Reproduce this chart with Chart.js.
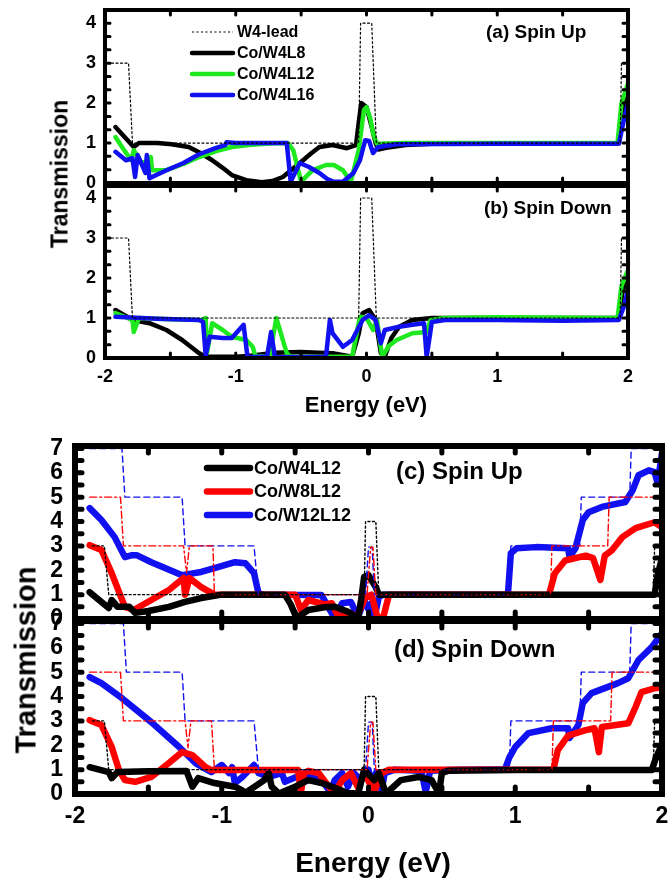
<!DOCTYPE html>
<html>
<head>
<meta charset="utf-8">
<script src="https://cdn.jsdelivr.net/npm/chart.js@4.4.1/dist/chart.umd.min.js"></script>
<style>
body { margin:0; background:#fff; }
#wrap { position:relative; width:668px; height:884px; overflow:hidden;
        font-family:"Liberation Sans", Arial, sans-serif; font-weight:bold; color:#000; }
canvas { position:absolute; left:0; top:0; }
.t { position:absolute; white-space:nowrap; line-height:1; transform:translate(-50%,-50%); }
.r { transform:translate(-50%,-50%) rotate(-90deg); }
</style>
</head>
<body>
<div id="wrap">
  <canvas id="pa" width="668" height="884"></canvas>
  <canvas id="pb" width="668" height="884"></canvas>
  <canvas id="pc" width="668" height="884"></canvas>
  <canvas id="pd" width="668" height="884"></canvas>
  <div class="t r" style="left:60px;top:174px;font-size:23px">Transmission</div>
  <div class="t" style="left:366px;top:405px;font-size:22px">Energy (eV)</div>
  <div class="t r" style="left:26px;top:660px;font-size:29px">Transmission</div>
  <div class="t" style="left:373px;top:863px;font-size:28px">Energy (eV)</div>
</div>
<script>
// ---- tick labels ----
const xTicks = [-2, -1, 0, 1, 2];
const yTicksTop = [0, 1, 2, 3, 4];
const yTicksBot = [0, 1, 2, 3, 4, 5, 6, 7];

// ---- data: [energy (eV), transmission] ----
// (a) spin up, W4 lead and Co/W4Ln
const aLead = [[-1.95,3],[-1.82,3],[-1.79,1],[-0.06,1],[-0.045,4],[0.04,4],[0.075,1],[1.94,1],[1.95,3],[2,3]];
const aL8 = [[-1.92,1.4],[-1.85,1.15],[-1.78,0.9],[-1.74,1.0],[-1.6,1.0],[-1.49,0.97],[-1.36,0.9],[-1.27,0.75],[-1.18,0.57],[-1.1,0.38],[-1.03,0.2],[-0.92,0.07],[-0.8,0.02],[-0.72,0.05],[-0.64,0.15],[-0.51,0.5],[-0.42,0.75],[-0.36,0.9],[-0.26,0.95],[-0.15,0.87],[-0.08,0.95],[-0.06,1.5],[-0.04,2.0],[0.0,1.9],[0.04,1.4],[0.07,1.0],[0.09,0.84],[0.15,0.88],[0.3,0.95],[0.5,0.98],[1.0,0.99],[1.93,1.0],[1.95,1.7],[1.98,2.05],[2.0,2.15]];
const aL12 = [[-1.92,1.15],[-1.86,0.85],[-1.8,0.57],[-1.78,0.82],[-1.72,0.5],[-1.66,0.57],[-1.65,0.65],[-1.64,0.32],[-1.53,0.32],[-1.4,0.48],[-1.28,0.65],[-1.15,0.8],[-1.03,0.9],[-0.9,0.95],[-0.75,0.99],[-0.6,1.0],[-0.56,0.82],[-0.5,0.03],[-0.45,0.2],[-0.41,0.32],[-0.31,0.45],[-0.25,0.45],[-0.18,0.32],[-0.12,0.03],[-0.06,0.82],[-0.02,1.82],[0.0,1.9],[0.03,1.6],[0.05,1.25],[0.08,0.98],[0.3,1.0],[1.92,1.0],[1.95,2.0],[2.0,2.5]];
const aL16 = [[-1.92,0.78],[-1.84,0.57],[-1.79,0.62],[-1.77,0.15],[-1.75,0.7],[-1.71,0.4],[-1.69,0.25],[-1.68,0.7],[-1.66,0.12],[-1.53,0.32],[-1.4,0.5],[-1.28,0.72],[-1.15,0.88],[-1.08,0.95],[-1.07,1.02],[-1.0,1.0],[-0.61,1.0],[-0.58,0.03],[-0.51,0.5],[-0.44,0.4],[-0.36,0.25],[-0.3,0.1],[-0.25,0.03],[-0.18,0.03],[-0.1,0.25],[-0.05,0.57],[-0.01,1.07],[0.02,1.05],[0.05,0.75],[0.09,0.9],[0.23,0.97],[1.0,0.98],[1.93,0.98],[1.97,1.6],[2.0,2.0]];

// (b) spin down
const bLead = [[-1.95,3],[-1.82,3],[-1.79,1],[-0.06,1],[-0.045,4],[0.04,4],[0.075,1],[1.94,1],[1.95,3],[2,3]];
const bL8 = [[-1.92,1.2],[-1.79,0.95],[-1.66,0.87],[-1.53,0.7],[-1.41,0.45],[-1.28,0.12],[-1.23,0.03],[-1.0,0.03],[-0.9,0.05],[-0.7,0.13],[-0.51,0.15],[-0.26,0.12],[-0.11,0.03],[-0.06,0.6],[-0.03,1.12],[0.02,1.2],[0.07,0.95],[0.11,0.12],[0.14,0.03],[0.19,0.5],[0.25,0.78],[0.35,0.95],[0.5,1.0],[1.93,1.0],[1.96,1.7],[2.0,1.95]];
const bL12 = [[-1.92,1.12],[-1.79,0.95],[-1.78,0.65],[-1.74,1.0],[-1.5,0.97],[-1.26,0.95],[-1.23,1.0],[-1.22,0.12],[-1.18,0.87],[-1.1,0.7],[-1.03,0.53],[-0.92,0.45],[-0.87,0.28],[-0.85,0.05],[-0.74,0.03],[-0.69,1.0],[-0.61,0.12],[-0.58,0.03],[-0.11,0.03],[-0.05,1.03],[0.0,1.0],[0.05,0.7],[0.08,0.95],[0.12,0.03],[0.17,0.3],[0.23,0.45],[0.35,0.62],[0.46,0.65],[0.49,0.95],[0.6,1.0],[1.0,1.02],[1.92,1.0],[1.95,1.8],[2.0,2.2]];
const bL16 = [[-1.92,1.03],[-1.6,0.98],[-1.28,0.95],[-1.25,0.9],[-1.23,0.07],[-1.2,0.53],[-1.1,0.5],[-1.03,0.5],[-0.94,0.83],[-0.91,0.02],[-0.76,0.04],[-0.73,0.65],[-0.7,0.02],[-0.31,0.03],[-0.28,0.95],[-0.26,0.62],[-0.18,0.28],[-0.11,0.45],[-0.03,0.95],[0.02,1.07],[0.07,0.95],[0.11,0.37],[0.14,0.7],[0.25,0.78],[0.35,0.83],[0.44,0.87],[0.46,0.03],[0.5,0.9],[0.6,0.95],[1.0,0.95],[1.5,0.93],[1.93,0.95],[1.97,1.3],[2.0,1.7]];

// (c) spin up, leads W4/W8/W12 and Co/WnL12
const cLead4 = [[-1.88,3],[-1.8,3],[-1.77,1],[-0.03,1],[-0.02,4],[0.05,4],[0.07,1],[1.94,1],[1.95,3],[2,3]];
const cLead8 = [[-1.9,5],[-1.69,5],[-1.67,3],[-1.26,3],[-1.24,1.9],[-1.22,3],[-1.06,3],[-1.05,1],[-0.01,1],[0.015,2.95],[0.03,2.95],[0.05,1],[1.24,1],[1.25,3],[1.63,3],[1.64,5],[2,5]];
const cLead12 = [[-1.9,7],[-1.68,7],[-1.66,5],[-1.27,5],[-1.25,3],[-0.78,3],[-0.75,1],[-0.02,1],[0.0,2.95],[0.025,2.95],[0.04,1],[0.96,1],[0.97,3],[1.44,3],[1.45,5],[1.78,5],[1.79,7],[2,7]];
const cW4 = [[-1.9,1.1],[-1.83,0.75],[-1.77,0.45],[-1.75,0.78],[-1.71,0.5],[-1.63,0.5],[-1.59,0.25],[-1.5,0.33],[-1.36,0.5],[-1.25,0.7],[-1.14,0.86],[-1.0,1.0],[-0.57,1.0],[-0.53,0.6],[-0.49,0.04],[-0.41,0.37],[-0.3,0.48],[-0.23,0.5],[-0.14,0.3],[-0.07,0.04],[-0.05,0.8],[-0.03,1.72],[0.0,1.8],[0.05,1.3],[0.07,1.0],[1.95,1.0],[1.97,1.8],[2.0,2.5]];
const cW8 = [[-1.9,3.03],[-1.82,2.83],[-1.75,1.88],[-1.66,0.5],[-1.6,0.37],[-1.48,0.78],[-1.36,1.19],[-1.26,1.68],[-1.25,1.0],[-1.22,1.68],[-1.14,1.31],[-1.05,1.0],[-0.5,1.0],[-0.46,0.37],[-0.41,0.78],[-0.3,0.6],[-0.25,0.65],[-0.2,0.02],[-0.14,0.3],[-0.08,0.08],[-0.02,0.9],[0.02,1.0],[0.06,0.1],[0.1,0.05],[0.14,1.0],[1.23,1.0],[1.27,1.88],[1.34,2.4],[1.48,2.6],[1.53,2.5],[1.58,1.6],[1.61,2.6],[1.66,2.83],[1.73,3.36],[1.82,3.73],[1.95,3.97],[1.99,3.8]];
const cW12 = [[-1.9,4.55],[-1.82,4.06],[-1.73,3.36],[-1.66,2.54],[-1.61,2.62],[-1.58,2.62],[-1.48,2.33],[-1.27,1.8],[-1.14,1.93],[-1.05,2.09],[-0.91,2.33],[-0.84,2.29],[-0.78,1.88],[-0.75,1.07],[-0.72,1.0],[-0.32,0.98],[-0.23,0.02],[-0.18,0.65],[-0.12,0.7],[-0.07,0.08],[-0.03,0.78],[0.0,0.4],[0.02,0.65],[0.04,0.02],[0.07,0.9],[0.1,1.0],[0.95,1.0],[0.97,2.7],[1.01,2.9],[1.14,2.95],[1.36,2.9],[1.37,2.55],[1.41,2.9],[1.46,4.06],[1.5,4.38],[1.59,4.6],[1.75,4.8],[1.8,5.28],[1.84,5.9],[1.91,6.1],[1.95,6.03],[1.97,5.57],[2.0,6.8]];

// (d) spin down
const dLead4 = [[-1.88,3],[-1.8,3],[-1.77,1],[-0.03,1],[-0.02,4],[0.05,4],[0.07,1],[1.94,1],[1.95,3],[2,3]];
const dLead8 = [[-1.9,5],[-1.69,5],[-1.67,3],[-1.25,3],[-1.23,1.9],[-1.21,3],[-1.07,3],[-1.05,1],[-0.01,1],[0.015,2.95],[0.03,2.95],[0.05,1],[1.25,1],[1.26,3],[1.65,3],[1.66,5],[2,5]];
const dLead12 = [[-1.9,7],[-1.67,7],[-1.65,5],[-1.27,5],[-1.25,3],[-0.78,3],[-0.75,1],[-0.02,1],[0.0,2.95],[0.025,2.95],[0.04,1],[0.96,1],[0.97,3],[1.44,3],[1.45,5],[1.78,5],[1.79,7],[2,7]];
const dW4 = [[-1.9,1.1],[-1.77,0.9],[-1.75,0.65],[-1.71,0.9],[-1.5,0.93],[-1.24,0.94],[-1.2,0.3],[-1.16,0.65],[-1.05,0.45],[-0.91,0.3],[-0.86,0.15],[-0.84,0.04],[-0.71,0.57],[-0.68,0.86],[-0.66,0.3],[-0.61,0.02],[-0.5,0.3],[-0.41,0.57],[-0.32,0.45],[-0.23,0.25],[-0.14,0.04],[-0.07,0.02],[-0.03,1.0],[0.0,0.8],[0.04,0.57],[0.07,0.86],[0.12,0.02],[0.22,0.57],[0.34,0.7],[0.43,0.57],[0.48,0.02],[0.5,0.86],[0.54,0.95],[1.0,0.98],[1.93,0.98],[1.96,1.5],[1.99,1.9]];
const dW8 = [[-1.9,3.03],[-1.82,2.83],[-1.75,1.93],[-1.7,0.98],[-1.66,0.57],[-1.59,0.5],[-1.48,0.7],[-1.36,1.27],[-1.27,1.72],[-1.2,1.6],[-1.11,1.1],[-1.07,0.98],[-0.48,0.98],[-0.46,0.08],[-0.44,0.86],[-0.41,0.95],[-0.34,0.86],[-0.27,0.3],[-0.23,0.04],[-0.18,0.57],[-0.12,0.86],[-0.07,0.25],[-0.03,0.86],[0.02,0.3],[0.04,0.1],[0.09,0.86],[0.14,1.0],[1.26,1.0],[1.29,1.8],[1.36,2.4],[1.48,2.62],[1.54,2.7],[1.57,1.72],[1.59,2.75],[1.77,2.9],[1.82,3.57],[1.86,4.18],[1.95,4.34],[2.0,4.38]];
const dW12 = [[-1.9,4.8],[-1.82,4.55],[-1.68,3.93],[-1.48,2.95],[-1.29,1.93],[-1.18,1.27],[-1.07,0.9],[-1.0,1.19],[-0.95,0.86],[-0.93,1.1],[-0.91,0.45],[-0.86,0.7],[-0.78,1.19],[-0.75,0.86],[-0.68,0.7],[-0.59,0.86],[-0.57,0.5],[-0.46,0.78],[-0.32,0.57],[-0.26,0.08],[-0.23,0.57],[-0.18,0.86],[-0.14,0.3],[-0.1,0.86],[-0.05,0.57],[0.0,1.0],[0.02,0.3],[0.05,0.86],[0.09,0.15],[0.11,0.86],[0.18,1.0],[0.36,0.95],[0.39,0.08],[0.42,0.95],[0.6,1.0],[0.93,1.02],[0.96,1.5],[1.0,1.93],[1.09,2.5],[1.25,2.7],[1.36,2.7],[1.37,2.3],[1.43,2.83],[1.46,3.73],[1.52,4.14],[1.7,4.55],[1.77,4.75],[1.84,5.5],[1.93,6.03],[2.0,6.6]];

const FONT = '"Liberation Sans", Arial, sans-serif';
const GREEN = '#1ee81e', BLUE = '#1010f0', RED = '#ff0000';

// —— helpers ——
const pts = arr => arr.map(([x, y]) => ({ x, y }));
function line(label, arr, color, width, order, dash, inLegend) {
  return { label, data: pts(arr), borderColor: color, borderWidth: width, borderDash: dash || [],
           order, inLegend: !!inLegend, fill: false };
}

// frame, inward ticks, panel tag and legend
const frame = {
  id: 'frame',
  afterDatasetsDraw(chart, args, o) {
    const { ctx, chartArea: a, scales: { x, y } } = chart;
    ctx.save();
    ctx.strokeStyle = '#000';
    ctx.lineCap = 'round';
    ctx.lineWidth = o.tickW;
    ctx.setLineDash([]);
    ctx.beginPath();
    for (let i = 0; -2 + i * 0.5 <= 2.001; i++) {
      const px = x.getPixelForValue(-2 + i * 0.5);
      ctx.moveTo(px, a.bottom); ctx.lineTo(px, a.bottom - o.tickL);
      ctx.moveTo(px, a.top); ctx.lineTo(px, a.top + o.tickL);
    }
    for (let i = 0; i * o.yStep <= y.max + 1e-6; i++) {
      const py = y.getPixelForValue(i * o.yStep);
      ctx.moveTo(a.left, py); ctx.lineTo(a.left + o.tickL, py);
      ctx.moveTo(a.right, py); ctx.lineTo(a.right - o.tickL, py);
    }
    ctx.stroke();
    ctx.lineCap = 'butt';
    ctx.lineWidth = o.border;
    ctx.strokeRect(a.left, a.top, a.right - a.left, a.bottom - a.top);

    ctx.fillStyle = '#000';
    ctx.textAlign = 'left';
    ctx.textBaseline = 'middle';
    ctx.font = 'bold ' + o.tagSize + 'px ' + FONT;
    ctx.fillText(o.tag, o.tagX, o.tagY);

    if (o.legend) {
      const L = o.legend;
      ctx.font = 'bold ' + L.size + 'px ' + FONT;
      chart.data.datasets.filter(d => d.inLegend).forEach((d, i) => {
        const yy = L.y + i * L.gap;
        ctx.strokeStyle = d.borderColor;
        ctx.lineWidth = d.borderWidth;
        ctx.setLineDash(d.borderDash);
        ctx.lineCap = d.borderDash.length ? 'butt' : 'round';
        ctx.beginPath(); ctx.moveTo(L.x, yy); ctx.lineTo(L.x + L.len, yy); ctx.stroke();
        ctx.fillText(d.label, L.x + L.len + 4, yy + 1);
      });
    }
    ctx.restore();
  }
};

function panel(id, sets, o) {
  return new Chart(document.getElementById(id), {
    type: 'line',
    data: { datasets: sets },
    options: {
      responsive: false,
      animation: false,
      layout: { padding: o.pad },
      elements: { point: { radius: 0 }, line: { tension: 0, borderJoinStyle: 'round', borderCapStyle: 'round' } },
      scales: {
        x: {
          type: 'linear', min: -2, max: 2, display: o.xLabels,
          grid: { display: false, drawTicks: false }, border: { display: false },
          ticks: { padding: o.xPad, color: '#000', maxRotation: 0, autoSkip: false,
                   font: { family: FONT, size: o.tickSize, weight: 'bold' } },
          afterBuildTicks: s => { s.ticks = xTicks.map(v => ({ value: v })); },
          afterFit: s => { if (o.xH) s.height = o.xH; s.paddingLeft = 0; s.paddingRight = 0; }
        },
        y: {
          min: 0, max: o.yMax,
          grid: { display: false, drawTicks: false }, border: { display: false },
          ticks: { autoSkip: false, padding: o.yPad, color: '#000',
                   font: { family: FONT, size: o.tickSize, weight: 'bold' } },
          afterBuildTicks: s => { s.ticks = o.yTicks.map(v => ({ value: v })); },
          afterFit: s => { s.width = o.yW; s.paddingTop = 0; s.paddingBottom = 0; }
        }
      },
      plugins: { legend: { display: false }, tooltip: { enabled: false }, frame: o.frame }
    },
    plugins: [frame]
  });
}

const DOT = [2, 2.5], DASHDOT = [7, 3, 2, 3], DASH = [6, 4];
const topFrame = { tickW: 3, tickL: 5, border: 4, yStep: 1 / 3 };
const botFrame = { tickW: 5, tickL: 7, border: 6, yStep: 0.5 };

panel('pa', [
  line('W4-lead', aLead, '#000', 1.2, 0, DOT, true),
  line('Co/W4L8', aL8, '#000', 4.5, 3, null, true),
  line('Co/W4L12', aL12, GREEN, 4.5, 2, null, true),
  line('Co/W4L16', aL16, BLUE, 4.5, 1, null, true)
], { pad: { top: 10, right: 40, bottom: 701, left: 0 }, xLabels: false, yMax: 4.33, yTicks: yTicksTop,
     yW: 105, yPad: 9, tickSize: 18,
     frame: Object.assign({ tag: '(a) Spin Up', tagX: 486, tagY: 33, tagSize: 19,
                            legend: { x: 192, y: 32, gap: 21, len: 41, size: 16 } }, topFrame) });

panel('pb', [
  line('W4-lead', bLead, '#000', 1.2, 0, DOT),
  line('Co/W4L8', bL8, '#000', 4.5, 3),
  line('Co/W4L12', bL12, GREEN, 4.5, 2),
  line('Co/W4L16', bL16, BLUE, 4.5, 1)
], { pad: { top: 186, right: 40, bottom: 496, left: 0 }, xLabels: true, xH: 30, xPad: 8, yMax: 4.3,
     yTicks: yTicksTop, yW: 105, yPad: 9, tickSize: 18,
     frame: Object.assign({ tag: '(b) Spin Down', tagX: 484, tagY: 209, tagSize: 19 }, topFrame) });

panel('pc', [
  line('W4-lead', cLead4, '#000', 1.4, 0, DOT),
  line('W8-lead', cLead8, RED, 1.4, 0, DASHDOT),
  line('W12-lead', cLead12, BLUE, 1.4, 0, DASH),
  line('Co/W4L12', cW4, '#000', 6.5, 1, null, true),
  line('Co/W8L12', cW8, RED, 6.5, 2, null, true),
  line('Co/W12L12', cW12, BLUE, 6.5, 3, null, true)
], { pad: { top: 446, right: 6, bottom: 265, left: 0 }, xLabels: false, yMax: 7.1, yTicks: yTicksBot,
     yW: 75, yPad: 12, tickSize: 23,
     frame: Object.assign({ tag: '(c) Spin Up', tagX: 396, tagY: 472, tagSize: 24,
                            legend: { x: 207, y: 468, gap: 23.5, len: 43, size: 18 } }, botFrame) });

panel('pd', [
  line('W4-lead', dLead4, '#000', 1.4, 0, DOT),
  line('W8-lead', dLead8, RED, 1.4, 0, DASHDOT),
  line('W12-lead', dLead12, BLUE, 1.4, 0, DASH),
  line('Co/W4L12', dW4, '#000', 6.5, 1),
  line('Co/W8L12', dW8, RED, 6.5, 2),
  line('Co/W12L12', dW12, BLUE, 6.5, 3)
], { pad: { top: 621, right: 6, bottom: 50, left: 0 }, xLabels: true, xH: 40, xPad: 9, yMax: 7.1,
     yTicks: yTicksBot, yW: 75, yPad: 12, tickSize: 23,
     frame: Object.assign({ tag: '(d) Spin Down', tagX: 394, tagY: 650, tagSize: 24 }, botFrame) });
</script>
</body>
</html>
